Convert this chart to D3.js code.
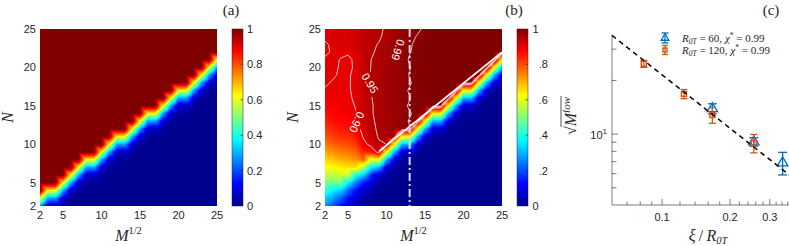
<!DOCTYPE html>
<html>
<head>
<meta charset="utf-8">
<script src="https://cdn.jsdelivr.net/npm/d3@7/dist/d3.min.js"></script>
<style>
html,body{margin:0;padding:0;background:#fff;}
svg{display:block;}
</style>
</head>
<body>
<svg id="fig" width="789" height="246" xmlns="http://www.w3.org/2000/svg"></svg>
<script>
// ======================= DATA =======================
// grid of the two heat maps
const sqrtM   = [2,3,4,5,6,7,8,9,10,11,12,13,14,15,16,17,18,19,20,21,22,23,24,25];
const nValues = [2,3,4,5,6,7,8,9,10,11,12,13,14,15,16,17,18,19,20,21,22,23,24,25];
const heatTicks = [2,5,10,15,20,25];
const colorTicks = [0,0.2,0.4,0.6,0.8,1];
const colorTickLabels = ["0","0.2","0.4","0.6","0.8","1"];

// panel (a): first N (per M^{1/2}) where the value is 1, and the values (%) of the rows just below it
const aEdge  = [4,5,5,6,7,8,9,9,10,11,12,12,13,14,15,15,16,17,18,18,19,20,21,22];
const aBelow = [62,28,6,1];

// panel (b): one array per M^{1/2} column, values in % for N = 2..25
const bCols = [
  [27,34,42,50,57,62,66,71,75,79,82,84.5,86.2,87.5,88.5,89.8,90.3,90.5,90.6,90.4,89.5,89.6,90.6,90.8],
  [21,28,37,48,56,62,68,73.5,78,81.5,84,86,87.2,88.2,89,89.5,89.8,90.3,90.5,90.6,90.3,90.5,91,91],
  [14,22,33,50,58,64,70,75,79.5,83,85.5,87,88,88.8,89.3,89.5,89.6,89.7,89.8,89.9,90.4,91,91.2,91.5],
  [8,14,22,36,58,65,71,76,80,83,85.5,87,88.2,89,89.5,89.7,89.8,89.8,89.6,89.5,90.3,91.2,91.5,91.8],
  [4,8,14,24,40,66,73,78,82,85.5,88,89.2,89.8,90.2,90.5,90.6,90.5,90.4,90.3,90.5,91.2,91.8,92,92.2],
  [1,3,7,15,32,55,78,84,88.5,90.5,91.5,92.2,92.7,93,93.2,93.3,93.4,93.4,93.3,93.3,93.5,93.7,93.8,94],
  [0,1,3,7,16,36,60,86,91.5,93.5,94.2,94.6,94.8,94.8,94.9,95.1,95.2,95.3,95.1,95,94.8,94.7,94.6,94.5],
  [0,0,0,1,7,30,63,92,94.5,95.3,95.5,95.5,95.6,95.6,95.7,95.8,95.8,95.8,95.6,95.4,95.3,95.1,94.7,94.5],
  [0,0,0,0,1,7,30,63,95,96,96.3,96.3,96.4,96.4,96.5,96.5,96.6,96.5,96.4,96.3,96.1,96,95.6,95.4],
  [0,0,0,0,0,1,7,30,63,97,97.2,97.3,97.3,97.4,97.4,97.5,97.5,97.5,97.4,97.3,97.2,97.1,97,96.9],
  [0,0,0,0,0,0,1,7,30,63,98,98.2,98.2,98.3,98.3,98.4,98.3,98.3,98.2,98.2,98.1,98,97.9,97.8],
  [0,0,0,0,0,0,1,7,30,63,98.8,99.2,98.8,99.3,98.9,99.2,98.8,99.1,98.9,99.2,98.9,98.8,98.6,98.4],
  [0,0,0,0,0,0,0,1,7,30,63,99.6,99.6,99.7,99.7,99.7,99.7,99.7,99.7,99.6,99.5,99.4,99.1,98.7],
  [0,0,0,0,0,0,0,0,1,7,30,63,99.8,99.8,99.8,99.8,99.8,99.8,99.8,99.8,99.8,99.7,99.5,99.3],
  [0,0,0,0,0,0,0,0,0,1,7,30,63,100,100,100,100,100,100,100,100,100,100,100],
  [0,0,0,0,0,0,0,0,0,1,7,30,63,100,100,100,100,100,100,100,100,100,100,100],
  [0,0,0,0,0,0,0,0,0,0,1,7,30,63,100,100,100,100,100,100,100,100,100,100],
  [0,0,0,0,0,0,0,0,0,0,0,1,7,30,63,100,100,100,100,100,100,100,100,100],
  [0,0,0,0,0,0,0,0,0,0,0,0,1,7,30,63,100,100,100,100,100,100,100,100],
  [0,0,0,0,0,0,0,0,0,0,0,0,1,7,30,63,100,100,100,100,100,100,100,100],
  [0,0,0,0,0,0,0,0,0,0,0,0,0,1,7,30,63,100,100,100,100,100,100,100],
  [0,0,0,0,0,0,0,0,0,0,0,0,0,0,1,7,30,63,100,100,100,100,100,100],
  [0,0,0,0,0,0,0,0,0,0,0,0,0,0,0,1,7,30,63,100,100,100,100,100],
  [0,0,0,0,0,0,0,0,0,0,0,0,0,0,0,0,1,7,30,63,100,100,100,100]
];
const contourLevels = [0.90, 0.95, 0.99];
const contourLabelText = ["0.90", "0.95", "0.99"];
const fitM = [9, 25];
const fitN = [9.1, 22.0];
const criticalM = 13;

// panel (c)
const xiTicks = [0.1, 0.2, 0.3];
const xiTickLabels = ["0.1", "0.2", "0.3"];
const xiMinor = [0.07,0.08,0.09,0.12,0.14,0.16,0.18,0.22,0.24,0.26,0.28,0.32,0.34,0.36,0.38];
const mTicks = [10];
const mMinor = [5,6,7,8,9,20,30];
const r60X = [0.167, 0.255, 0.342];
const r60Y = [13.9, 9.05, 6.9];
const r60Err = [0.9, 0.5, 1.0];
const r120X = [0.083, 0.125, 0.167, 0.255];
const r120Y = [24.8, 16.8, 12.8, 8.9];
const r120Err = [1.1, 1.0, 1.3, 1.05];
const fitXi = [0.06, 0.40];
const fitSqrtM = [35.8, 5.4];
const legendLabels = [
  {R: "60", chi: "0.99"},
  {R: "120", chi: "0.99"}
];

// sanity check of the hand-typed table
bCols.forEach((c, i) => { if (c.length !== nValues.length) throw new Error("bCols column " + i + " has " + c.length); });

// ======================= LAYOUT / STYLE =======================
const L = {
  top: 29, bottom: 206,
  a: {x0: 40,  x1: 217, cb: 232, cbLab: 247,   yLab: 36,  nLab: 13,  tag: 231, tagTxt: "(a)"},
  b: {x0: 325, x1: 502, cb: 517, cbLab: 532.5, yLab: 321, nLab: 298, tag: 514, tagTxt: "(b)"},
  cbW: 11,
  xTickY: 219, xLabY: 241,
  c: {x0: 612, x1: 798, y0: 205, y1: 35, tag: 771, yLabX: 576}
};
const SANS = "'Liberation Sans', Arial, Helvetica, sans-serif";
const SERIF = "'Liberation Serif', 'DejaVu Serif', 'Times New Roman', serif";
const TXT = "#262626";
const BLUE = "#0072BD", ORANGE = "#D95319";

const contourLabelPos = [
  {m: 6.16, n: 12.9, rot: 114},
  {m: 7.85, n: 17.98, rot: 59},
  {m: 11.5, n: 22.3, rot: 107}
];

const svg = d3.select("#fig");
const defs = svg.append("defs");

// jet colormap
const jetStops = [0, 0.125, 0.375, 0.625, 0.875, 1];
const jetColors = ["#00008f", "#0000ff", "#00ffff", "#ffff00", "#ff0000", "#800000"];
const jet = d3.scaleLinear().domain(jetStops).range(jetColors).interpolate(d3.interpolateRgb).clamp(true);
const LUTN = 1024;
const lut = d3.range(LUTN + 1).map(k => d3.rgb(jet(k / LUTN)));

const grad = defs.append("linearGradient").attr("id", "jetGrad")
  .attr("x1", 0).attr("y1", 1).attr("x2", 0).attr("y2", 0);
jetStops.forEach((s, k) => grad.append("stop").attr("offset", s).attr("stop-color", jetColors[k]));

// grids
const gridA = nValues.map(n => sqrtM.map((m, i) => n >= aEdge[i] ? 1 : ((aBelow[aEdge[i] - 1 - n] ?? 0) / 100)));
const gridB = nValues.map((n, j) => sqrtM.map((m, i) => bCols[i][j] / 100));

function heatPanel(P, grid) {
  const g = svg.append("g");
  const xs = d3.scaleLinear().domain([sqrtM[0], sqrtM[sqrtM.length - 1]]).range([P.x0, P.x1]);
  const ys = d3.scaleLinear().domain([nValues[0], nValues[nValues.length - 1]]).range([L.bottom, L.top]);
  const pw = P.x1 - P.x0, ph = L.bottom - L.top;
  const cv = document.createElement("canvas");
  cv.width = pw; cv.height = ph;
  const ctx = cv.getContext("2d");
  const img = ctx.createImageData(pw, ph);
  const nI = sqrtM.length, nJ = nValues.length;
  for (let py = 0; py < ph; py++) {
    const nv = ys.invert(L.top + py + 0.5);
    const fj = nv - nValues[0];
    const j0 = Math.max(0, Math.min(nJ - 2, Math.floor(fj)));
    const u = fj - j0;
    for (let px = 0; px < pw; px++) {
      const mv = xs.invert(P.x0 + px + 0.5);
      const fi = mv - sqrtM[0];
      const i0 = Math.max(0, Math.min(nI - 2, Math.floor(fi)));
      const t = fi - i0;
      const v00 = grid[j0][i0], v10 = grid[j0][i0 + 1], v01 = grid[j0 + 1][i0], v11 = grid[j0 + 1][i0 + 1];
      // Gouraud-like shading: each cell split into two triangles
      const v = (t + u <= 1)
        ? v00 + t * (v10 - v00) + u * (v01 - v00)
        : v11 + (1 - t) * (v01 - v11) + (1 - u) * (v10 - v11);
      const c = lut[Math.max(0, Math.min(LUTN, Math.round(v * LUTN)))];
      const k = (py * pw + px) * 4;
      img.data[k] = c.r; img.data[k + 1] = c.g; img.data[k + 2] = c.b; img.data[k + 3] = 255;
    }
  }
  ctx.putImageData(img, 0, 0);
  g.append("image").attr("x", P.x0).attr("y", L.top).attr("width", pw).attr("height", ph)
    .attr("preserveAspectRatio", "none").attr("href", cv.toDataURL());

  // tick labels
  g.selectAll(".yt").data(heatTicks).enter().append("text")
    .attr("x", P.yLab).attr("y", d => ys(d) + 4).attr("text-anchor", "end")
    .attr("font-family", SANS).attr("font-size", 11).attr("fill", TXT).text(d => d);
  g.selectAll(".xt").data(heatTicks).enter().append("text")
    .attr("x", d => xs(d)).attr("y", L.xTickY).attr("text-anchor", "middle")
    .attr("font-family", SANS).attr("font-size", 11).attr("fill", TXT).text(d => d);

  // axis labels
  const xl = g.append("text").attr("x", (P.x0 + P.x1) / 2).attr("y", L.xLabY).attr("text-anchor", "middle")
    .attr("font-family", SERIF).attr("font-size", 16).attr("fill", TXT);
  xl.append("tspan").attr("font-style", "italic").text("M");
  xl.append("tspan").attr("font-size", 10.5).attr("dy", -7).text("1/2");
  g.append("text").attr("transform", `translate(${P.nLab},${(L.top + L.bottom) / 2}) rotate(-90)`)
    .attr("text-anchor", "middle").attr("font-family", SERIF).attr("font-size", 16)
    .attr("font-style", "italic").attr("fill", TXT).text("N");

  // colorbar
  const cbs = d3.scaleLinear().domain([0, 1]).range([L.bottom, L.top]);
  g.append("rect").attr("x", P.cb).attr("y", L.top).attr("width", L.cbW).attr("height", L.bottom - L.top)
    .attr("fill", "url(#jetGrad)").attr("stroke", "#262626").attr("stroke-width", 0.5);
  colorTicks.filter(v => v > 0 && v < 1).forEach(v => {
    g.append("line").attr("x1", P.cb + L.cbW - 2.5).attr("x2", P.cb + L.cbW)
      .attr("y1", cbs(v)).attr("y2", cbs(v)).attr("stroke", "#262626").attr("stroke-width", 0.6);
  });
  g.selectAll(".cbt").data(colorTicks).enter().append("text")
    .attr("x", P.cbLab).attr("y", d => cbs(d) + 4)
    .attr("font-family", SANS).attr("font-size", 11).attr("fill", TXT)
    .text((d, k) => colorTickLabels[k]);

  // panel tag
  g.append("text").attr("x", P.tag).attr("y", 15).attr("text-anchor", "middle")
    .attr("font-family", SERIF).attr("font-size", 15).attr("fill", TXT).text(P.tagTxt);
  return {g, xs, ys};
}

// ---------------- panel (a) ----------------
heatPanel(L.a, gridA);

// ---------------- panel (b) ----------------
const pb = heatPanel(L.b, gridB);
{
  const {g, xs, ys} = pb;
  defs.append("clipPath").attr("id", "clipB").append("rect")
    .attr("x", L.b.x0).attr("y", L.top).attr("width", L.b.x1 - L.b.x0).attr("height", L.bottom - L.top);

  // mask that opens gaps for inline contour labels
  const mask = defs.append("mask").attr("id", "lblMask").attr("maskUnits", "userSpaceOnUse")
    .attr("x", 0).attr("y", 0).attr("width", 789).attr("height", 246);
  mask.append("rect").attr("x", 0).attr("y", 0).attr("width", 789).attr("height", 246).attr("fill", "#fff");
  contourLabelPos.forEach(p => {
    mask.append("rect").attr("x", -13).attr("y", -6).attr("width", 26).attr("height", 12).attr("fill", "#000")
      .attr("transform", `translate(${xs(p.m)},${ys(p.n)}) rotate(${p.rot})`);
  });

  const flat = [];
  gridB.forEach(row => row.forEach(v => flat.push(v)));
  const nx = sqrtM.length, ny = nValues.length;
  const polys = d3.contours().size([nx, ny]).thresholds(contourLevels)(flat);
  const X = p => xs(sqrtM[0] + p[0] - 0.5);
  const Y = p => ys(nValues[0] + p[1] - 0.5);
  const lo = 0.5 + 1e-6, hix = nx - 0.5 - 1e-6, hiy = ny - 0.5 - 1e-6;
  const border = (p, q) => (p[0] <= lo && q[0] <= lo) || (p[0] >= hix && q[0] >= hix) ||
                           (p[1] <= lo && q[1] <= lo) || (p[1] >= hiy && q[1] >= hiy);
  const cg = g.append("g").attr("clip-path", "url(#clipB)").attr("mask", "url(#lblMask)");
  polys.forEach(mp => {
    let d = "";
    mp.coordinates.forEach(poly => poly.forEach(ring => {
      let pen = false;
      for (let k = 0; k < ring.length - 1; k++) {
        const p = ring[k], q = ring[k + 1];
        if (border(p, q)) { pen = false; continue; }
        if (!pen) d += `M${X(p).toFixed(2)},${Y(p).toFixed(2)}`;
        d += `L${X(q).toFixed(2)},${Y(q).toFixed(2)}`;
        pen = true;
      }
    }));
    cg.append("path").attr("d", d).attr("fill", "none")
      .attr("stroke", "#ffffff").attr("stroke-opacity", 0.85).attr("stroke-width", 0.9)
      .attr("stroke-linejoin", "round");
  });

  // contour labels
  contourLabelPos.forEach((p, k) => {
    g.append("text").attr("transform", `translate(${xs(p.m)},${ys(p.n)}) rotate(${p.rot})`)
      .attr("text-anchor", "middle").attr("dy", "0.36em")
      .attr("font-family", SANS).attr("font-size", 11).attr("fill", "#ffffff")
      .text(contourLabelText[k]);
  });

  // fitted boundary line
  g.append("line").attr("x1", xs(fitM[0])).attr("y1", ys(fitN[0])).attr("x2", xs(fitM[1])).attr("y2", ys(fitN[1]))
    .attr("stroke", "#ffffff").attr("stroke-width", 1.8).attr("clip-path", "url(#clipB)");
  // critical M line
  g.append("line").attr("x1", xs(criticalM)).attr("x2", xs(criticalM)).attr("y1", L.top).attr("y2", L.bottom)
    .attr("stroke", "#d9d9ec").attr("stroke-width", 2).attr("stroke-dasharray", "8,3,2,3");
}

// white patch of panel (c) that hides part of (b)'s colorbar labels
svg.append("rect").attr("x", 530).attr("y", 45).attr("width", 9.5).attr("height", 145).attr("fill", "#fff");

// ---------------- panel (c) ----------------
{
  const C = L.c;
  const xs = d3.scaleLog().domain([0.06, 0.40]).range([C.x0, C.x1]);
  const ys = d3.scaleLog().domain([4, 36]).range([C.y0, C.y1]);
  const g = svg.append("g");

  // axes lines
  g.append("line").attr("x1", C.x0).attr("x2", C.x0).attr("y1", C.y0).attr("y2", C.y1)
    .attr("stroke", "#262626").attr("stroke-width", 0.6);
  g.append("line").attr("x1", C.x0).attr("x2", C.x1).attr("y1", C.y0).attr("y2", C.y0)
    .attr("stroke", "#262626").attr("stroke-width", 0.6);

  // ticks
  xiTicks.forEach(v => g.append("line").attr("x1", xs(v)).attr("x2", xs(v)).attr("y1", C.y0).attr("y2", C.y0 - 6)
    .attr("stroke", "#262626").attr("stroke-width", 0.6));
  xiMinor.forEach(v => g.append("line").attr("x1", xs(v)).attr("x2", xs(v)).attr("y1", C.y0).attr("y2", C.y0 - 3.5)
    .attr("stroke", "#262626").attr("stroke-width", 0.6));
  mTicks.forEach(v => g.append("line").attr("x1", C.x0).attr("x2", C.x0 + 6).attr("y1", ys(v)).attr("y2", ys(v))
    .attr("stroke", "#262626").attr("stroke-width", 0.6));
  mMinor.forEach(v => g.append("line").attr("x1", C.x0).attr("x2", C.x0 + 4.5).attr("y1", ys(v)).attr("y2", ys(v))
    .attr("stroke", "#262626").attr("stroke-width", 0.6));

  xiTicks.forEach((v, k) => g.append("text").attr("x", xs(v)).attr("y", 221).attr("text-anchor", "middle")
    .attr("font-family", SANS).attr("font-size", 11).attr("fill", TXT).text(xiTickLabels[k]));
  mTicks.forEach(v => {
    const t = g.append("text").attr("x", C.x0 - 5).attr("y", ys(v) + 5).attr("text-anchor", "end")
      .attr("font-family", SANS).attr("font-size", 11).attr("fill", TXT);
    t.append("tspan").text("10");
    t.append("tspan").attr("font-size", 8).attr("dy", -5).text(String(Math.round(Math.log10(v))));
  });

  // axis labels
  const xl = g.append("text").attr("x", 708).attr("y", 241).attr("text-anchor", "middle")
    .attr("font-family", SERIF).attr("font-size", 16).attr("fill", TXT);
  xl.append("tspan").attr("font-style", "italic").text("ξ");
  xl.append("tspan").text("\u2009/\u2009");
  xl.append("tspan").attr("font-style", "italic").text("R");
  xl.append("tspan").attr("font-size", 10.5).attr("dy", 3).attr("font-style", "italic").text("0T");

  const yg = g.append("g").attr("transform", `translate(${C.yLabX},116) rotate(-90)`);
  const yt = yg.append("text").attr("x", 0).attr("y", 0)
    .attr("font-family", SERIF).attr("font-size", 16).attr("fill", TXT);
  const s1 = yt.append("tspan").text("√");
  yt.append("tspan").attr("font-style", "italic").text("M");
  yt.append("tspan").attr("font-size", 11).attr("font-style", "italic").attr("dy", -6).text("low");
  const totalW = yt.node().getComputedTextLength();
  const sqrtW = s1.node().getComputedTextLength();
  yt.attr("x", -totalW / 2);
  yg.append("line").attr("x1", -totalW / 2 + sqrtW - 0.8).attr("x2", totalW / 2 + 1)
    .attr("y1", -15).attr("y2", -15).attr("stroke", TXT).attr("stroke-width", 0.8);

  // error bars + markers
  function errBar(x, y, e, cap, color, w) {
    const x0 = xs(x), ya = ys(y + e), yb = ys(y - e);
    g.append("line").attr("x1", x0).attr("x2", x0).attr("y1", ya).attr("y2", yb).attr("stroke", color).attr("stroke-width", w);
    g.append("line").attr("x1", x0 - cap).attr("x2", x0 + cap).attr("y1", ya).attr("y2", ya).attr("stroke", color).attr("stroke-width", w);
    g.append("line").attr("x1", x0 - cap).attr("x2", x0 + cap).attr("y1", yb).attr("y2", yb).attr("stroke", color).attr("stroke-width", w);
  }
  const tri = (cx, cy, r) => `M${cx},${cy - r}L${cx + r * 0.866},${cy + r / 2}L${cx - r * 0.866},${cy + r / 2}Z`;

  r60X.forEach((x, k) => errBar(x, r60Y[k], r60Err[k], 4.5, BLUE, 1.3));
  r60X.forEach((x, k) => g.append("path").attr("d", tri(xs(x), ys(r60Y[k]), 6))
    .attr("fill", "none").attr("stroke", BLUE).attr("stroke-width", 1.3));
  r120X.forEach((x, k) => errBar(x, r120Y[k], r120Err[k], 3.5, ORANGE, 1.3));
  r120X.forEach((x, k) => g.append("rect").attr("x", xs(x) - 2.5).attr("y", ys(r120Y[k]) - 2.5)
    .attr("width", 5).attr("height", 5).attr("fill", "none").attr("stroke", ORANGE).attr("stroke-width", 1.5));

  // fitted dashed line
  g.append("line").attr("x1", xs(fitXi[0])).attr("y1", ys(fitSqrtM[0])).attr("x2", xs(fitXi[1])).attr("y2", ys(fitSqrtM[1]))
    .attr("stroke", "#000").attr("stroke-width", 1.5).attr("stroke-dasharray", "5,4");

  // legend
  const lx = 665, lys = [38, 50];
  g.append("line").attr("x1", lx).attr("x2", lx).attr("y1", lys[0] - 5).attr("y2", lys[0] + 5).attr("stroke", BLUE).attr("stroke-width", 1.3);
  g.append("line").attr("x1", lx - 3.5).attr("x2", lx + 3.5).attr("y1", lys[0] - 5).attr("y2", lys[0] - 5).attr("stroke", BLUE).attr("stroke-width", 1.3);
  g.append("line").attr("x1", lx - 3.5).attr("x2", lx + 3.5).attr("y1", lys[0] + 5).attr("y2", lys[0] + 5).attr("stroke", BLUE).attr("stroke-width", 1.3);
  g.append("path").attr("d", tri(lx, lys[0], 4.5)).attr("fill", "none").attr("stroke", BLUE).attr("stroke-width", 1.3);
  g.append("line").attr("x1", lx).attr("x2", lx).attr("y1", lys[1] - 4.5).attr("y2", lys[1] + 4.5).attr("stroke", ORANGE).attr("stroke-width", 1.3);
  g.append("line").attr("x1", lx - 3).attr("x2", lx + 3).attr("y1", lys[1] - 4.5).attr("y2", lys[1] - 4.5).attr("stroke", ORANGE).attr("stroke-width", 1.3);
  g.append("line").attr("x1", lx - 3).attr("x2", lx + 3).attr("y1", lys[1] + 4.5).attr("y2", lys[1] + 4.5).attr("stroke", ORANGE).attr("stroke-width", 1.3);
  g.append("rect").attr("x", lx - 2).attr("y", lys[1] - 2).attr("width", 4).attr("height", 4)
    .attr("fill", "none").attr("stroke", ORANGE).attr("stroke-width", 1.4);

  legendLabels.forEach((d, k) => {
    const t = g.append("text").attr("x", 682).attr("y", lys[k] + 4)
      .attr("font-family", SERIF).attr("font-size", 11).attr("fill", TXT);
    t.append("tspan").attr("font-style", "italic").text("R");
    t.append("tspan").attr("font-size", 7.5).attr("dy", 2).attr("font-style", "italic").text("0T");
    t.append("tspan").attr("dy", -2).text(" = " + d.R + ", ");
    t.append("tspan").attr("font-style", "italic").text("χ");
    t.append("tspan").attr("font-size", 7.5).attr("dy", -4).text("*");
    t.append("tspan").attr("dy", 4).text(" = " + d.chi);
  });

  g.append("text").attr("x", C.tag).attr("y", 15).attr("text-anchor", "middle")
    .attr("font-family", SERIF).attr("font-size", 15).attr("fill", TXT).text("(c)");
}
</script>
</body>
</html>
